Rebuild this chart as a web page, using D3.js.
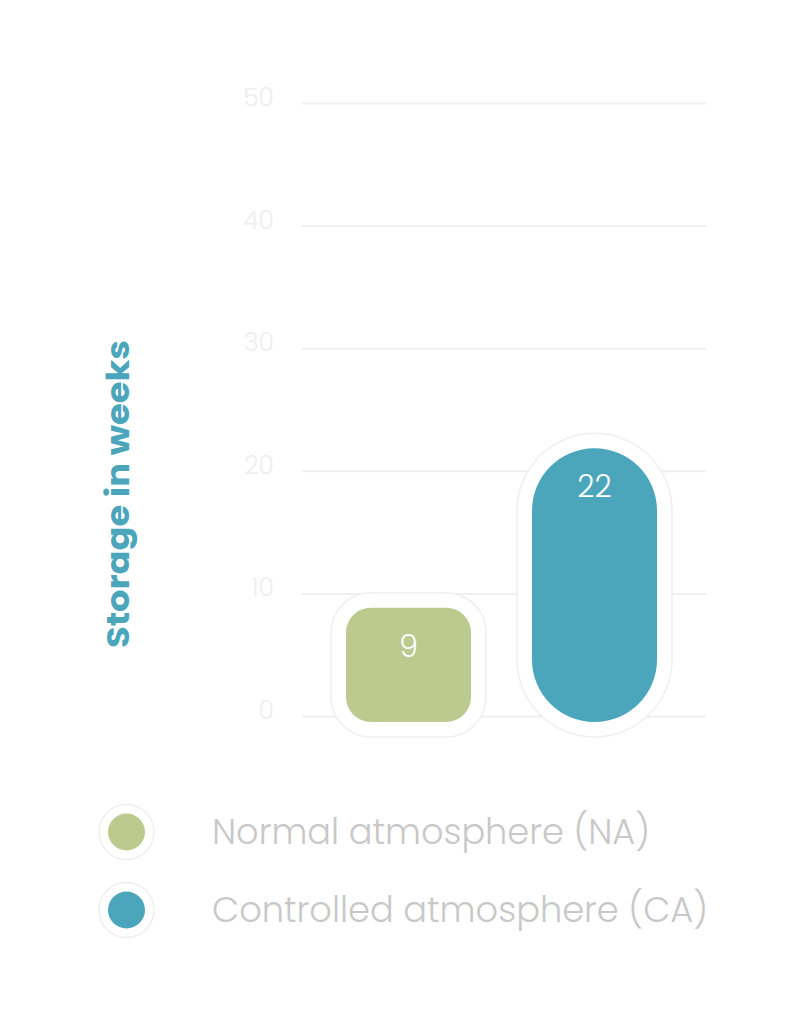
<!DOCTYPE html>
<html><head><meta charset="utf-8">
<script src="https://cdn.jsdelivr.net/npm/d3@7"></script>
<style>html,body{margin:0;padding:0;background:#fff;}</style>
</head><body>
<svg id="chart" width="806" height="1024"></svg>
<script>
const categories = ["Normal atmosphere (NA)", "Controlled atmosphere (CA)"];
const values = [9, 22];
const colors = ["#bcc98f", "#4ba6bc"];
const tickValues = [0, 10, 20, 30, 40, 50];
const axisTitle = "Storage in weeks";

const font = "Poppins, 'Open Sans', 'Noto Sans', sans-serif";
const svg = d3.select("#chart");

const y = d3.scaleLinear().domain([0, 50]).range([716, 103]);

// gridlines + tick labels via axis
const axis = d3.axisLeft(y).tickValues(tickValues).tickSize(-404).tickPadding(28).tickFormat(d3.format("d"));
const gAxis = svg.append("g").attr("transform", "translate(302,0)").call(axis);
gAxis.select(".domain").remove();
gAxis.selectAll(".tick line").attr("stroke", "#efefef").attr("stroke-width", 2);
gAxis.selectAll(".tick text").attr("fill", "#eeeeee").attr("font-size", 25).attr("font-family", font)
  .attr("font-weight", 300).attr("dy", "0.1em");

// axis title
svg.append("text")
  .attr("transform", "translate(129,494) rotate(-90)")
  .attr("text-anchor", "middle")
  .attr("font-family", font).attr("font-weight", 700).attr("font-size", 31)
  .attr("fill", "#4ba6bc")
  .attr("textLength", 308).attr("lengthAdjust", "spacingAndGlyphs")
  .text(axisTitle);

// bars
const bw = 125, pad = 15;
const bars = svg.append("g").selectAll("g").data(values).join("g");
bars.each(function(v, i) {
  const g = d3.select(this);
  const cx = [408.5, 594.5][i];
  const top = y(v) + 2, bottom = y(0) + 6;
  const h = bottom - top;
  const r = i === 0 ? 25 : bw / 2;
  g.append("rect")
    .attr("x", cx - bw / 2 - pad).attr("y", top - pad)
    .attr("width", bw + 2 * pad).attr("height", h + 2 * pad)
    .attr("rx", r + pad).attr("ry", r + pad)
    .attr("fill", "#fff").attr("stroke", "#efefef").attr("stroke-width", 1.5);
  g.append("rect")
    .attr("x", cx - bw / 2).attr("y", top)
    .attr("width", bw).attr("height", h)
    .attr("rx", r).attr("ry", r)
    .attr("fill", colors[i]);
  g.append("text")
    .attr("x", cx).attr("y", top + 49)
    .attr("text-anchor", "middle")
    .attr("font-family", font).attr("font-size", 30).attr("font-weight", 300)
    .attr("fill", "#fff")
    .text(v);
});

// legend
const legendY = [832, 910];
const legendLen = [438, 496];
const leg = svg.append("g").selectAll("g").data(categories).join("g");
leg.append("circle").attr("cx", 126.5).attr("cy", (d, i) => legendY[i]).attr("r", 27.5)
  .attr("fill", "#fff").attr("stroke", "#efefef").attr("stroke-width", 1.5);
leg.append("circle").attr("cx", 126.5).attr("cy", (d, i) => legendY[i]).attr("r", 18.5)
  .attr("fill", (d, i) => colors[i]);
leg.append("text").attr("x", 212).attr("y", (d, i) => legendY[i] + 11.5)
  .attr("font-family", font).attr("font-size", 35).attr("font-weight", 300).attr("fill", "#c8c8c8")
  .attr("textLength", (d, i) => legendLen[i]).attr("lengthAdjust", "spacingAndGlyphs")
  .text(d => d);
</script>
</body></html>
